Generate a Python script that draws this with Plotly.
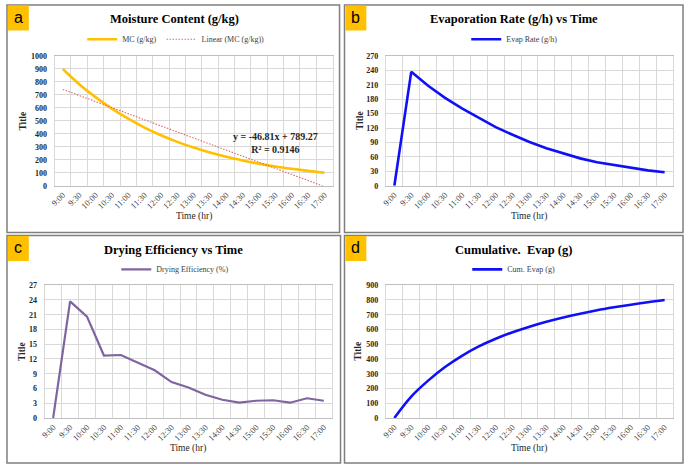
import plotly.graph_objects as go

# ---------------- data ----------------
times = ["9:00", "9:30", "10:00", "10:30", "11:00", "11:30", "12:00", "12:30", "13:00",
         "13:30", "14:00", "14:30", "15:00", "15:30", "16:00", "16:30", "17:00"]
mc = [900, 783, 683, 595, 517, 448, 389, 338, 294, 256, 223, 195, 170, 149, 131, 115, 100]
trend_slope = -46.81
trend_intercept = 789.27
trend_r2 = 0.9146
evap_rate = [0, 237, 208, 183, 161, 141, 122, 106, 91, 78, 67, 57, 49, 43, 37, 32, 28]
efficiency = [0, 23.7, 20.6, 12.7, 12.8, 11.2, 9.7, 7.3, 6.2, 4.7, 3.7, 3.1, 3.5, 3.6, 3.1, 4.0, 3.5]
cum_evap = [0, 145, 253, 345, 421, 485, 537, 581, 619, 652, 681, 707, 730, 750, 768, 785, 800]

trend = [trend_intercept + trend_slope * (i + 1) for i in range(len(times))]

# ---------------- helpers ----------------
W, H = 685, 471
def X(px):
    return px / W
def Y(py):
    return 1 - py / H

SERIF = "Liberation Serif, Times New Roman, serif"
GRID = "#d9d9d9"

fig = go.Figure()

fig.add_trace(go.Scatter(x=times, y=mc, name="MC (g/kg)", mode="lines",
                         line=dict(color="#FFC000", width=2.6, shape="spline", smoothing=1.0),
                         xaxis="x", yaxis="y", legend="legend"))
fig.add_trace(go.Scatter(x=times, y=trend, name="Linear (MC (g/kg))", mode="lines",
                         line=dict(color="#E06666", width=1.1, dash="1.5px,1.5px"),
                         xaxis="x", yaxis="y", legend="legend"))
fig.add_trace(go.Scatter(x=times, y=evap_rate, name="Evap Rate (g/h)", mode="lines",
                         line=dict(color="#1010F5", width=2.6),
                         xaxis="x2", yaxis="y2", legend="legend2"))
fig.add_trace(go.Scatter(x=times, y=efficiency, name="Drying Efficiency (%)", mode="lines",
                         line=dict(color="#8064A2", width=2.2),
                         xaxis="x3", yaxis="y3", legend="legend3"))
fig.add_trace(go.Scatter(x=times, y=cum_evap, name="Cum. Evap (g)", mode="lines",
                         line=dict(color="#1010F5", width=2.6, shape="spline", smoothing=1.0),
                         xaxis="x4", yaxis="y4", legend="legend4"))

def xaxis(dom, anchor):
    return dict(domain=dom, anchor=anchor, type="category", categoryorder="array",
                categoryarray=times, range=[-0.5, len(times) - 0.5], tickson="boundaries",
                showgrid=True, gridcolor=GRID, gridwidth=1, ticks="", tickangle=-45,
                tickfont=dict(family=SERIF, size=8.5, color="#404040"),
                showline=True, linecolor="#bfbfbf", linewidth=1, mirror=True,
                zeroline=False, fixedrange=True)

def yaxis(dom, anchor, rng, dt):
    return dict(domain=dom, anchor=anchor, range=rng, dtick=dt, tick0=0,
                showgrid=True, gridcolor=GRID, gridwidth=1, ticks="",
                tickfont=dict(family=SERIF, size=8, color="#262626", weight="bold"),
                showline=True, linecolor="#d9d9d9", linewidth=1, mirror=True,
                zeroline=False, ticklabelstandoff=5, fixedrange=True)

xa = [X(50), X(330)]
xb = [X(383.7), X(673)]
xc = [X(40), X(329.7)]
xd = [X(383.7), X(673)]
ytop = [Y(185.3), Y(53)]
ybot = [Y(422), Y(286.7)]

fig.update_layout(
    width=W, height=H,
    margin=dict(l=0, r=0, t=0, b=0),
    paper_bgcolor="white", plot_bgcolor="white",
    xaxis=xaxis(xa, "y"), yaxis=yaxis(ytop, "x", [0, 1000], 100),
    xaxis2=xaxis(xb, "y2"), yaxis2=yaxis(ytop, "x2", [0, 270], 30),
    xaxis3=xaxis(xc, "y3"), yaxis3=yaxis(ybot, "x3", [0, 27], 3),
    xaxis4=xaxis(xd, "y4"), yaxis4=yaxis(ybot, "x4", [0, 900], 100),
)

def legend(xc_, yc_):
    return dict(orientation="h", x=X(xc_), y=Y(yc_), xanchor="center", yanchor="middle",
                font=dict(family=SERIF, size=8, color="#404040"), bgcolor="rgba(0,0,0,0)",
                itemwidth=30, tracegroupgap=0, itemclick=False, itemdoubleclick=False)

fig.update_layout(legend=legend(172, 36), legend2=legend(513, 36),
                  legend3=legend(171.5, 270.5), legend4=legend(512.5, 270.5))

shapes = []
annotations = []
panels = [
    ((2, 1, 337, 233), "a", "Moisture Content (g/kg)", 171, 15.5, 190, 217, 18, 119),
    ((342, 1, 683, 233), "b", "Evaporation Rate (g/h) vs Time", 512.5, 15, 528.3, 217, 357, 119),
    ((2, 236, 338, 468), "c", "Drying Efficiency vs Time", 170, 250.5, 184.8, 453, 17, 354),
    ((342, 236, 683, 468), "d", "Cumulative.  Evap (g)", 512, 250.5, 528.3, 453, 356, 354),
]
for (x0, y0, x1, y1), lab, title, tx, ty, axx, axy, ayx, ayy in panels:
    shapes.append(dict(type="rect", xref="paper", yref="paper", x0=X(x0), x1=X(x1),
                       y0=Y(y1), y1=Y(y0), line=dict(color="#7f7f7f", width=1.5),
                       fillcolor="rgba(0,0,0,0)", layer="above"))
    shapes.append(dict(type="rect", xref="paper", yref="paper", x0=X(x0 + 1), x1=X(x0 + 22),
                       y0=Y(y0 + 26), y1=Y(y0 + 0.5), line=dict(width=0),
                       fillcolor="#FFC000", layer="above"))
    annotations.append(dict(text=lab, xref="paper", yref="paper", x=X(x0 + 11.5), y=Y(y0 + 12.5),
                            showarrow=False, xanchor="center", yanchor="middle",
                            font=dict(family="Liberation Sans, Arial, sans-serif", size=16, color="black")))
    annotations.append(dict(text="<b>%s</b>" % title, xref="paper", yref="paper", x=X(tx), y=Y(ty),
                            showarrow=False, xanchor="center", yanchor="middle",
                            font=dict(family=SERIF, size=12.5, color="black")))
    annotations.append(dict(text="Time (hr)", xref="paper", yref="paper", x=X(axx), y=Y(axy),
                            showarrow=False, xanchor="center", yanchor="middle",
                            font=dict(family=SERIF, size=9.5, color="#262626")))
    annotations.append(dict(text="<b>Title</b>", xref="paper", yref="paper", x=X(ayx), y=Y(ayy),
                            showarrow=False, xanchor="center", yanchor="middle", textangle=-90,
                            font=dict(family=SERIF, size=9.5, color="#262626")))

annotations.append(dict(
    text="<b>y = %.2fx + %.2f<br>R² = %.4f</b>" % (trend_slope, trend_intercept, trend_r2),
    xref="paper", yref="paper", x=X(272), y=Y(141.5), showarrow=False,
    xanchor="center", yanchor="middle", align="center",
    font=dict(family=SERIF, size=10, color="#262626")))

fig.update_layout(shapes=shapes, annotations=annotations)

fig.write_html("out.html", config={"displayModeBar": False, "staticPlot": True},
               post_script="document.body.style.margin='0px';document.body.style.padding='0px';")
